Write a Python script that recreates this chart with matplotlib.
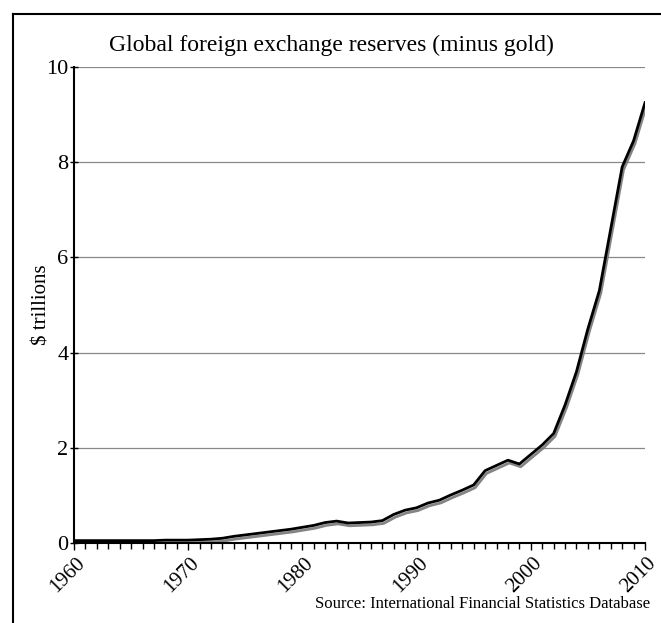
import matplotlib
matplotlib.use('Agg')
import matplotlib.pyplot as plt
import matplotlib.patheffects as pe
import matplotlib.transforms as mtransforms
from matplotlib.lines import Line2D

years = list(range(1960, 2011))
reserves = [0.05, 0.05, 0.05, 0.05, 0.05, 0.05, 0.05, 0.05, 0.06, 0.06,
            0.06, 0.07, 0.08, 0.10, 0.14, 0.17, 0.20, 0.23, 0.26, 0.29,
            0.33, 0.37, 0.43, 0.46, 0.42, 0.43, 0.44, 0.47, 0.60, 0.69,
            0.74, 0.84, 0.90, 1.01, 1.11, 1.22, 1.52, 1.63, 1.74, 1.66,
            1.86, 2.06, 2.30, 2.90, 3.60, 4.50, 5.30, 6.60, 7.90, 8.45,
            9.25]

plt.rcParams['font.family'] = ['Liberation Serif', 'DejaVu Serif']

fig = plt.figure(figsize=(6.61, 6.23), dpi=100)
ax = fig.add_axes([74/661, 1 - 543/623, 571/661, 476/623])

ax.plot(years, reserves, color='black', lw=2.0, solid_joinstyle='round',
        path_effects=[pe.SimpleLineShadow(offset=(1, -2), shadow_color='#777777', alpha=0.9),
                      pe.Normal()])

ax.set_xlim(1960, 2010)
ax.set_ylim(0, 10)
ax.set_yticks([0, 2, 4, 6, 8, 10])
ax.set_xticks(range(1960, 2011, 10))
ax.set_xticks(range(1960, 2011), minor=True)
ax.yaxis.grid(True, color='#888888', lw=0.9)
ax.set_axisbelow(True)

for s in ['top', 'right']:
    ax.spines[s].set_visible(False)
ax.spines['left'].set_linewidth(1.5)
ax.spines['bottom'].set_linewidth(1.5)

ax.tick_params(axis='y', direction='inout', length=6, width=1, labelsize=16, pad=1)
ax.tick_params(axis='x', which='major', direction='out', length=5, width=1, labelsize=15, pad=3)
ax.tick_params(axis='x', which='minor', direction='out', length=4, width=1)
shift = mtransforms.ScaledTranslation(15/100, 0, fig.dpi_scale_trans)
for lab in ax.get_xticklabels():
    lab.set_rotation(45)
    lab.set_ha('right')
    lab.set_va('top')
    lab.set_transform(lab.get_transform() + shift)

ax.set_ylabel('$ trillions', fontsize=15)
ax.yaxis.set_label_coords(-22/571, 0.5)
fig.text(0.502, 1 - 45/623, 'Global foreign exchange reserves (minus gold)',
         fontsize=17, ha='center', va='center')
fig.text(650/661, 1 - 604/623, 'Source: International Financial Statistics Database',
         fontsize=12, ha='right', va='center')

# scanned page frame
fig.add_artist(Line2D([13/661, 13/661], [0, 1 - 14/623], transform=fig.transFigure, color='black', lw=1.5))
fig.add_artist(Line2D([13/661, 1], [1 - 14/623, 1 - 14/623], transform=fig.transFigure, color='black', lw=1.5))

fig.savefig('out.png', dpi=100)
